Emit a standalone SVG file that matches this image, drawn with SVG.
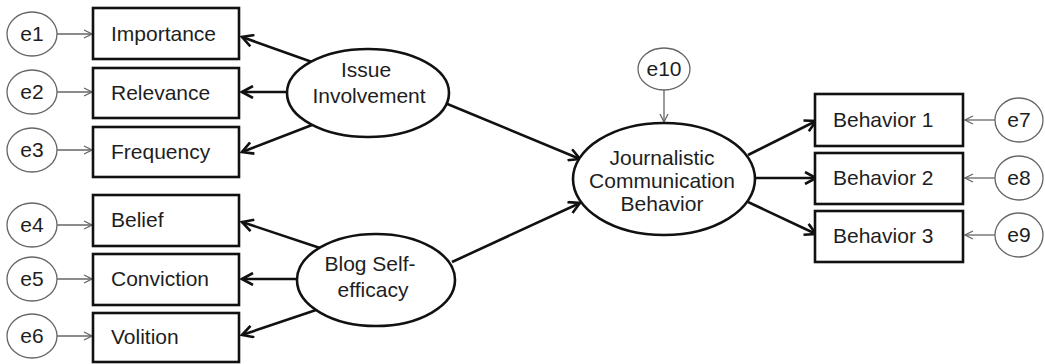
<svg xmlns="http://www.w3.org/2000/svg" width="1045" height="364" viewBox="0 0 1045 364">
<defs>
<style>
.box{fill:#fff;stroke:#111;stroke-width:2.6}
.lat{fill:#fff;stroke:#111;stroke-width:2.6}
.err{fill:#fff;stroke:#666;stroke-width:1.3}
.t{font-family:"Liberation Sans",Arial,sans-serif;font-size:21px;fill:#1e1e1e}
.c{text-anchor:middle}
.main{stroke:#111;stroke-width:2.6;fill:none;marker-end:url(#ah)}
.thin{stroke:#666;stroke-width:1.3;fill:none;marker-end:url(#ahs)}
</style>
<marker id="ah" viewBox="0 0 14 14" refX="12" refY="7" markerWidth="14" markerHeight="14" markerUnits="userSpaceOnUse" orient="auto"><path d="M1,1 L12,7 L1,13" fill="none" stroke="#111" stroke-width="2.6"/></marker>
<marker id="ahs" viewBox="0 0 10 10" refX="9" refY="5" markerWidth="10" markerHeight="10" markerUnits="userSpaceOnUse" orient="auto"><path d="M1,1 L9,5 L1,9" fill="none" stroke="#666" stroke-width="1.3"/></marker>
</defs>
<rect width="1045" height="364" fill="#fff"/>
<g id="connectors">
<line class="thin" x1="57" y1="34" x2="92" y2="34"/>
<line class="thin" x1="57" y1="92" x2="92" y2="92"/>
<line class="thin" x1="57" y1="150" x2="92" y2="150"/>
<line class="thin" x1="57" y1="225" x2="92" y2="225"/>
<line class="thin" x1="57" y1="279" x2="92" y2="279"/>
<line class="thin" x1="57" y1="336" x2="92" y2="336"/>
<line class="thin" x1="995" y1="120" x2="965" y2="120"/>
<line class="thin" x1="995" y1="178" x2="965" y2="178"/>
<line class="thin" x1="995" y1="235" x2="965" y2="235"/>
<line class="thin" x1="664" y1="90" x2="664" y2="122"/>
<line class="main" x1="312" y1="62" x2="242" y2="37"/>
<line class="main" x1="288" y1="92" x2="242" y2="92"/>
<line class="main" x1="312" y1="125" x2="242" y2="152"/>
<line class="main" x1="320" y1="248" x2="242" y2="222"/>
<line class="main" x1="297" y1="279" x2="242" y2="279"/>
<line class="main" x1="322" y1="308" x2="242" y2="335"/>
<line class="main" x1="445" y1="103" x2="580" y2="159"/>
<line class="main" x1="452" y1="262" x2="580" y2="203"/>
<line class="main" x1="748" y1="155" x2="816" y2="121"/>
<line class="main" x1="755" y1="178" x2="816" y2="178"/>
<line class="main" x1="748" y1="202" x2="816" y2="234"/>
</g>
<g id="e1"><ellipse class="err" cx="32" cy="34" rx="25" ry="22"/><text class="t c" x="32" y="41">e1</text></g>
<g id="e2"><ellipse class="err" cx="32" cy="92" rx="25" ry="22"/><text class="t c" x="32" y="99">e2</text></g>
<g id="e3"><ellipse class="err" cx="32" cy="150" rx="25" ry="22"/><text class="t c" x="32" y="157">e3</text></g>
<g id="e4"><ellipse class="err" cx="32" cy="225" rx="25" ry="22"/><text class="t c" x="32" y="232">e4</text></g>
<g id="e5"><ellipse class="err" cx="32" cy="279" rx="25" ry="22"/><text class="t c" x="32" y="286">e5</text></g>
<g id="e6"><ellipse class="err" cx="32" cy="336" rx="25" ry="22"/><text class="t c" x="32" y="343">e6</text></g>
<g id="importance"><rect class="box" x="93" y="8" width="146" height="51"/><text class="t" x="111" y="41">Importance</text></g>
<g id="relevance"><rect class="box" x="93" y="68" width="146" height="50"/><text class="t" x="111" y="100">Relevance</text></g>
<g id="frequency"><rect class="box" x="93" y="127" width="146" height="50"/><text class="t" x="111" y="159">Frequency</text></g>
<g id="belief"><rect class="box" x="93" y="195" width="146" height="51"/><text class="t" x="111" y="227">Belief</text></g>
<g id="conviction"><rect class="box" x="93" y="254" width="146" height="51"/><text class="t" x="111" y="286">Conviction</text></g>
<g id="volition"><rect class="box" x="93" y="313" width="146" height="49"/><text class="t" x="111" y="344">Volition</text></g>
<g id="issue"><ellipse class="lat" cx="368" cy="93" rx="81" ry="44"/><text class="t c" x="366" y="77">Issue</text><text class="t c" x="369" y="103">Involvement</text></g>
<g id="blog"><ellipse class="lat" cx="376" cy="280" rx="79" ry="46"/><text class="t c" x="370" y="271">Blog Self-</text><text class="t c" x="373" y="297">efficacy</text></g>
<g id="e10"><ellipse class="err" cx="664" cy="69" rx="26" ry="21"/><text class="t c" x="664" y="76">e10</text></g>
<g id="jcb"><ellipse class="lat" cx="664" cy="179" rx="91" ry="56"/><text class="t c" x="662" y="165">Journalistic</text><text class="t c" x="662" y="188">Communication</text><text class="t c" x="662" y="211">Behavior</text></g>
<g id="b1"><rect class="box" x="815" y="94" width="148" height="52"/><text class="t" x="833" y="127">Behavior 1</text></g>
<g id="b2"><rect class="box" x="815" y="153" width="148" height="51"/><text class="t" x="833" y="185">Behavior 2</text></g>
<g id="b3"><rect class="box" x="815" y="211" width="148" height="51"/><text class="t" x="833" y="243">Behavior 3</text></g>
<g id="e7"><ellipse class="err" cx="1019" cy="120" rx="24" ry="22"/><text class="t c" x="1019" y="127">e7</text></g>
<g id="e8"><ellipse class="err" cx="1019" cy="178" rx="24" ry="22"/><text class="t c" x="1019" y="185">e8</text></g>
<g id="e9"><ellipse class="err" cx="1019" cy="235" rx="24" ry="22"/><text class="t c" x="1019" y="242">e9</text></g>
</svg>
